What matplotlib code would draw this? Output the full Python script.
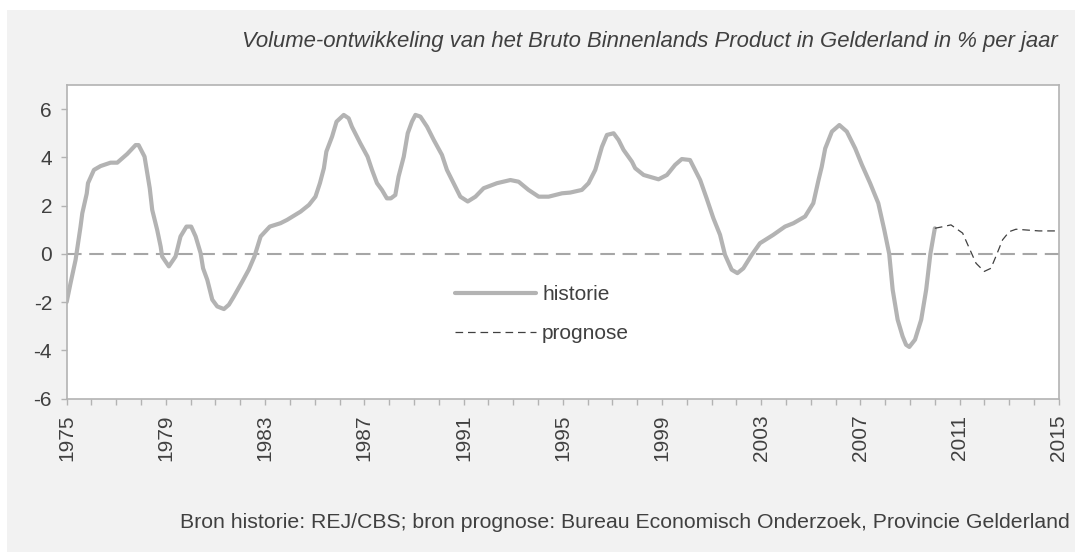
import matplotlib
matplotlib.use("Agg")
import matplotlib.pyplot as plt
from matplotlib.patches import Rectangle

# jaartallen (decimaal) en groei in % - historie
hist_jaar = [1975.0, 1975.16, 1975.36, 1975.56, 1975.63, 1975.81, 1975.86, 1976.1, 1976.37, 1976.77,
             1977.04, 1977.44, 1977.78, 1977.9, 1978.14, 1978.25, 1978.35, 1978.45, 1978.65, 1978.79,
             1978.85, 1979.12, 1979.39, 1979.59, 1979.83, 1980.02, 1980.2, 1980.4, 1980.5, 1980.67,
             1980.87, 1981.07, 1981.34, 1981.54, 1981.74, 1982.08, 1982.34, 1982.57, 1982.82, 1983.19,
             1983.62, 1983.89, 1984.43, 1984.77, 1985.03, 1985.21, 1985.37, 1985.47, 1985.7, 1985.88,
             1986.17, 1986.37, 1986.5, 1986.84, 1987.13, 1987.31, 1987.51, 1987.71, 1987.91, 1988.07,
             1988.25, 1988.38, 1988.59, 1988.75, 1988.92, 1989.06, 1989.26, 1989.53, 1989.8, 1990.13,
             1990.33, 1990.6, 1990.87, 1991.17, 1991.48, 1991.81, 1992.35, 1992.89, 1993.22, 1993.62,
             1994.03, 1994.43, 1994.97, 1995.3, 1995.77, 1996.04, 1996.31, 1996.58, 1996.78, 1997.05,
             1997.25, 1997.45, 1997.79, 1997.92, 1998.26, 1998.86, 1999.2, 1999.53, 1999.8, 2000.13,
             2000.27, 2000.54, 2000.8, 2001.07, 2001.34, 2001.54, 2001.81, 2002.04, 2002.28, 2002.62,
             2002.95, 2003.49, 2003.96, 2004.3, 2004.77, 2005.1, 2005.31, 2005.44, 2005.58, 2005.85,
             2006.15, 2006.45, 2006.79, 2007.06, 2007.39, 2007.72, 2007.96, 2008.16, 2008.3, 2008.5,
             2008.7, 2008.84, 2008.97, 2009.2, 2009.45, 2009.65, 2009.82, 2010.0]
hist_groei = [-2.0, -1.2, -0.25, 1.13, 1.68, 2.5, 2.93, 3.48, 3.64, 3.78,
              3.78, 4.14, 4.51, 4.51, 4.03, 3.34, 2.72, 1.82, 0.99, 0.3,
              -0.11, -0.52, -0.11, 0.72, 1.13, 1.13, 0.72, 0.03, -0.6, -1.08,
              -1.9, -2.18, -2.29, -2.11, -1.77, -1.15, -0.66, -0.11, 0.72, 1.13,
              1.27, 1.41, 1.75, 2.03, 2.37, 2.93, 3.55, 4.24, 4.86, 5.48,
              5.76, 5.62, 5.27, 4.58, 4.03, 3.48, 2.93, 2.65, 2.3, 2.3,
              2.44, 3.2, 4.03, 5.0, 5.48, 5.76, 5.69, 5.27, 4.72, 4.1,
              3.48, 2.93, 2.37, 2.17, 2.37, 2.72, 2.93, 3.06, 2.99, 2.65,
              2.37, 2.37, 2.51, 2.54, 2.65, 2.93, 3.48, 4.44, 4.93, 5.0,
              4.72, 4.31, 3.82, 3.55, 3.27, 3.09, 3.27, 3.69, 3.93, 3.89,
              3.61, 3.06, 2.3, 1.48, 0.79, -0.04, -0.66, -0.8, -0.6, -0.04,
              0.44, 0.79, 1.13, 1.27, 1.55, 2.1, 3.06, 3.61, 4.37, 5.07,
              5.34, 5.07, 4.37, 3.69, 2.93, 2.1, 1.0, 0.0, -1.49, -2.73,
              -3.42, -3.77, -3.86, -3.56, -2.73, -1.49, 0.0, 1.06]

# prognose
prog_jaar = [2010.0, 2010.3, 2010.65, 2011.12, 2011.39, 2011.66, 2011.99, 2012.26, 2012.46, 2012.73,
             2013.0, 2013.27, 2013.67, 2014.2, 2015.0]
prog_groei = [1.06, 1.12, 1.2, 0.86, 0.23, -0.39, -0.73, -0.6, -0.11, 0.58,
              0.92, 1.02, 0.99, 0.95, 0.95]

jaren = list(range(1975, 2016))
jaar_labels = [str(j) if (j - 1975) % 4 == 0 else "" for j in jaren]
y_ticks = [-6, -4, -2, 0, 2, 4, 6]

titel = "Volume-ontwikkeling van het Bruto Binnenlands Product in Gelderland in % per jaar"
bron = "Bron historie: REJ/CBS; bron prognose: Bureau Economisch Onderzoek, Provincie Gelderland"

plt.rcParams["font.family"] = ["Liberation Sans", "DejaVu Sans"]
plt.rcParams["lines.scale_dashes"] = False

tekst_kleur = "#404040"
as_kleur = "#b3b3b3"

fig = plt.figure(figsize=(10.75, 5.52), dpi=100)
fig.patch.set_facecolor("white")
# grijze achtergrond (met smalle witte rand links en boven)
fig.patches.append(Rectangle((7 / 1075, 0), 1, 542 / 552, transform=fig.transFigure,
                             facecolor="#f2f2f2", edgecolor="none", zorder=-10))

ax = fig.add_axes([0.062, 0.278, 0.923, 0.568])
ax.set_facecolor("white")

ax.axhline(0, color="#a6a6a6", lw=1.5, dashes=(10.5, 5.5), zorder=1)
ax.plot(hist_jaar, hist_groei, color="#b3b3b3", lw=3.0, solid_joinstyle="round",
        solid_capstyle="round", label="historie", zorder=3)
ax.plot(prog_jaar, prog_groei, color="#404040", lw=0.9, dashes=(5.5, 3.5),
        label="prognose", zorder=4)

ax.set_xlim(1975, 2015)
ax.set_ylim(-6, 7)
ax.set_xticks(jaren)
ax.set_xticklabels(jaar_labels, rotation=90)
ax.set_yticks(y_ticks)
ax.set_yticklabels([str(v) for v in y_ticks])

for s in ax.spines.values():
    s.set_color(as_kleur)
    s.set_linewidth(1.2)
ax.tick_params(axis="both", direction="out", length=4.5, width=1.0, color=as_kleur,
               labelcolor=tekst_kleur, labelsize=15)
ax.tick_params(axis="x", pad=7)
ax.tick_params(axis="y", pad=6)

leg = ax.legend(loc="upper left", bbox_to_anchor=(0.391, 0.362), frameon=False,
                fontsize=15, handlelength=3.9, handletextpad=0.3, labelspacing=0.95,
                borderpad=0, borderaxespad=0)
for t in leg.get_texts():
    t.set_color(tekst_kleur)

fig.text(1058 / 1075, 1 - 42 / 552, titel, ha="right", va="center", fontsize=15.9,
         style="italic", color=tekst_kleur)
fig.text(1070 / 1075, 1 - 522 / 552, bron, ha="right", va="center", fontsize=15.35,
         color=tekst_kleur)

fig.savefig("out.png", dpi=100, facecolor=fig.get_facecolor())
